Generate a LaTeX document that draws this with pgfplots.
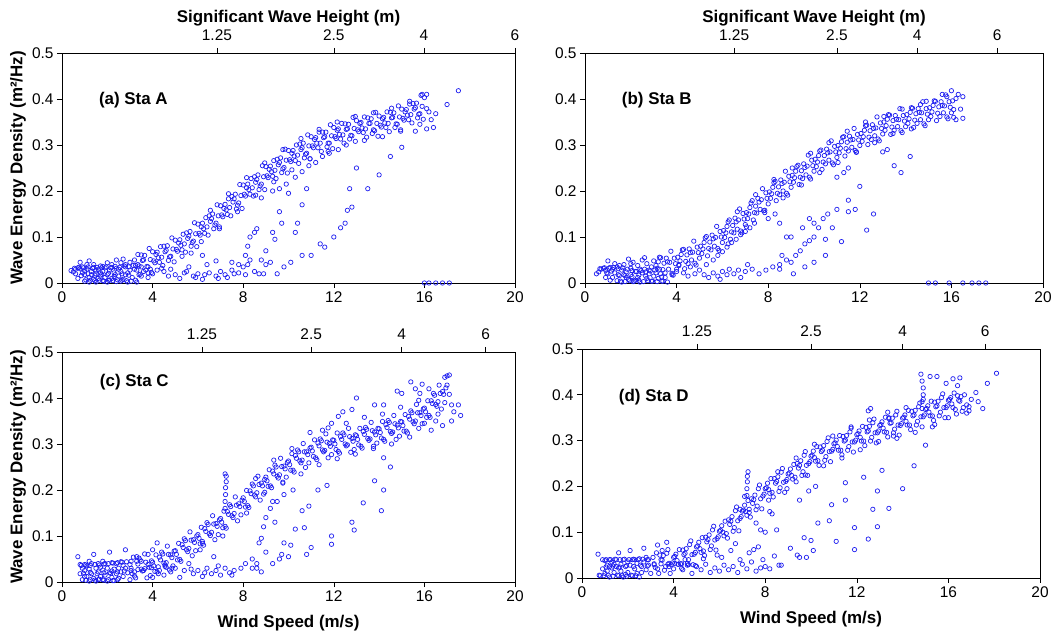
\documentclass[border=0pt]{standalone}
\usepackage{pgfplots}
\pgfplotsset{compat=1.18}
\usepackage{fontspec}
\setmainfont{Liberation Sans}
\definecolor{wblue}{RGB}{30,30,240}
\tikzset{plab/.style={anchor=west,font=\bfseries\fontsize{17}{18}\selectfont}}
\pgfplotsset{
  panel/.style={scale only axis, anchor=south west,
    xmin=0,xmax=20,ymin=0,ymax=0.5,
    xtick={0,4,8,12,16,20}, xticklabels={0,4,8,12,16,20},
    ytick={0,0.1,0.2,0.3,0.4,0.5}, yticklabels={0,0.1,0.2,0.3,0.4,0.5},
    /pgf/number format/assume math mode=true,
    tick align=outside, xtick pos=left, ytick pos=left,
    major tick length=5bp, tick style={black,line width=0.6bp},
    axis line style={black,line width=0.8bp},
    tick label style={font=\fontsize{15.5}{16}\selectfont},
    label style={font=\bfseries\fontsize{17}{18}\selectfont},
    ylabel style={at={(rel axis cs:0,0.5)},anchor=center,yshift=44bp},
    xlabel style={yshift=-7bp},
  },
  toppanel/.style={scale only axis, anchor=south west,
    xmin=0,xmax=20,ymin=0,ymax=1,
    axis x line*=top, axis y line=none,
    /pgf/number format/assume math mode=true,
    tick align=outside, major tick length=5bp,
    tick style={black,line width=0.6bp},
    axis line style={black,line width=0.8bp},
    tick label style={font=\fontsize{15.5}{16}\selectfont},
    xticklabel style={yshift=4bp},
    label style={font=\bfseries\fontsize{17}{18}\selectfont},
    xlabel style={yshift=-3bp},
  },
  sc/.style={only marks, mark=o, mark size=2.2bp, mark options={draw=wblue,line width=0.7bp}},
}
\begin{document}
\begin{tikzpicture}
\useasboundingbox (0,0) rectangle (1054bp,633bp);
% ---------------- (a)
\begin{axis}[panel, at={(62bp,350bp)}, width=453bp, height=230bp,
  ylabel={Wave Energy Density (m²/Hz)}]
\addplot[sc] coordinates {
(0.4,0.027)(0.5,0.024)(0.6,0.030)(0.7,0.033)(0.8,0.031)(0.9,0.022)(1.0,0.018)(1.0,0.004)(1.1,0.030)(1.2,0.012)(1.2,0.002)(1.3,0.025)(1.4,0.034)(1.4,0.008)(1.5,0.020)(1.5,0.002)(1.6,0.030)(1.7,0.015)(1.7,0.037)(1.8,0.005)(1.8,0.025)(1.9,0.033)(2.0,0.018)(2.0,0.002)(2.1,0.028)(2.2,0.010)(2.2,0.040)(2.3,0.022)(2.4,0.003)(2.4,0.032)(2.5,0.015)(2.6,0.044)(2.6,0.025)(2.7,0.008)(2.8,0.035)(2.8,0.018)(2.9,0.002)(3.0,0.028)(3.0,0.045)(3.1,0.012)(0.8,0.045)(1.2,0.048)(2.4,0.050)(1.9,0.012)(1.1,0.040)(0.6,0.020)(2.2,0.034)(1.6,0.010)(3.3,0.002)(2.7,0.052)(0.9,0.035)(1.3,0.018)(1.5,0.028)(1.8,0.036)(2.1,0.006)(2.5,0.030)(2.9,0.022)(3.2,0.030)(0.7,0.010)(1.0,0.026)(2.3,0.014)(2.6,0.004)(1.4,0.040)(2.0,0.044)(3.4,0.018)(3.6,0.025)(3.8,0.012)(1.7,0.022)(2.8,0.040)(3.5,0.035)
(0.55,0.032)(0.75,0.034)(0.95,0.033)(1.15,0.035)(1.35,0.032)(1.55,0.034)(1.75,0.033)(1.95,0.035)(2.15,0.033)(2.35,0.036)(2.55,0.034)(2.75,0.037)(2.95,0.035)(3.15,0.038)(3.35,0.040)
(1.05,0.007)(1.25,0.006)(1.45,0.005)(1.65,0.006)(1.85,0.004)(2.05,0.006)(2.25,0.005)(2.45,0.007)(2.65,0.006)(2.85,0.005)(3.05,0.004)(3.25,0.006)
(0.85,0.016)(1.15,0.020)(1.45,0.017)(1.75,0.019)(2.05,0.021)(2.35,0.018)(2.65,0.020)(2.95,0.017)
(3.2,0.050)(3.3,0.028)(3.4,0.037)(3.5,0.061)(3.6,0.050)(3.7,0.028)(3.8,0.035)(3.9,0.051)(4.0,0.068)(4.1,0.044)(4.2,0.067)(4.3,0.045)(4.4,0.056)(4.5,0.080)(4.6,0.071)(4.7,0.049)(4.8,0.058)(4.9,0.074)(5.0,0.093)(5.1,0.069)(5.2,0.094)(5.3,0.072)(5.4,0.085)(5.5,0.109)(5.6,0.102)(5.7,0.080)(5.8,0.091)(5.9,0.107)(6.0,0.128)(6.1,0.104)(6.2,0.130)(6.3,0.108)(6.4,0.122)(6.5,0.146)(6.6,0.140)(6.7,0.118)(6.8,0.130)(6.9,0.146)(7.0,0.168)(7.1,0.144)(7.2,0.171)(7.3,0.149)(7.4,0.164)(7.5,0.188)(7.6,0.183)(7.7,0.161)(7.8,0.174)(7.9,0.190)(8.0,0.213)(8.1,0.189)(8.2,0.215)(8.3,0.193)(8.4,0.207)(8.5,0.231)(8.6,0.225)(8.7,0.203)(8.8,0.215)(8.9,0.231)(9.0,0.253)(9.1,0.229)(9.2,0.254)(9.3,0.232)(9.4,0.245)(9.5,0.269)(9.6,0.262)(9.7,0.240)(9.8,0.251)(9.9,0.267)(10.0,0.288)(10.1,0.264)(10.2,0.288)(10.3,0.266)(10.4,0.278)(10.5,0.302)(10.6,0.294)(10.7,0.272)(10.8,0.282)(10.9,0.298)(11.0,0.318)(11.1,0.294)(11.2,0.316)(11.3,0.294)(11.4,0.304)(11.5,0.328)(11.6,0.318)(11.7,0.296)(11.8,0.304)(11.9,0.320)(12.0,0.338)(12.1,0.314)(12.2,0.335)(12.3,0.313)(12.4,0.322)(12.5,0.346)(12.6,0.335)(12.7,0.313)(12.8,0.320)(12.9,0.336)(13.0,0.353)(13.1,0.329)(13.2,0.349)(13.3,0.327)(13.4,0.335)(13.5,0.359)(13.6,0.347)(13.7,0.325)(13.8,0.331)(13.9,0.347)(14.0,0.363)(14.1,0.339)(14.2,0.360)(14.3,0.338)(14.4,0.347)(14.5,0.371)(14.6,0.360)(14.7,0.338)(14.8,0.345)(14.9,0.361)(15.0,0.378)(15.1,0.354)(15.2,0.377)(15.3,0.355)(15.4,0.366)(15.5,0.390)(15.6,0.381)(15.7,0.359)(15.8,0.368)(15.9,0.384)(16.0,0.403)(16.1,0.379)
(3.25,0.038)(3.35,0.062)(3.45,0.019)(3.55,0.049)(3.65,0.060)(3.75,0.036)(3.85,0.075)(3.95,0.023)(4.05,0.048)(4.15,0.062)(4.25,0.055)(4.35,0.079)(4.45,0.038)(4.55,0.068)(4.65,0.081)(4.75,0.057)(4.85,0.098)(4.95,0.046)(5.05,0.073)(5.15,0.087)(5.25,0.082)(5.35,0.106)(5.45,0.067)(5.55,0.097)(5.65,0.112)(5.75,0.088)(5.85,0.131)(5.95,0.079)(6.05,0.108)(6.15,0.122)(6.25,0.118)(6.35,0.142)(6.45,0.104)(6.55,0.134)(6.65,0.150)(6.75,0.126)(6.85,0.170)(6.95,0.118)(7.05,0.148)(7.15,0.162)(7.25,0.159)(7.35,0.183)(7.45,0.146)(7.55,0.176)(7.65,0.193)(7.75,0.169)(7.85,0.214)(7.95,0.162)(8.05,0.193)(8.15,0.207)(8.25,0.203)(8.35,0.227)(8.45,0.189)(8.55,0.219)(8.65,0.235)(8.75,0.211)(8.85,0.255)(8.95,0.203)(9.05,0.233)(9.15,0.247)(9.25,0.242)(9.35,0.266)(9.45,0.227)(9.55,0.257)(9.65,0.272)(9.75,0.248)(9.85,0.291)(9.95,0.239)(10.05,0.268)(10.15,0.282)(10.25,0.276)(10.35,0.300)(10.45,0.260)(10.55,0.290)(10.65,0.304)(10.75,0.280)(10.85,0.322)(10.95,0.270)(11.05,0.298)(11.15,0.312)(11.25,0.304)(11.35,0.328)(11.45,0.286)(11.55,0.316)(11.65,0.328)(11.75,0.304)(11.85,0.344)(11.95,0.292)(12.05,0.318)(12.15,0.332)(12.25,0.323)(12.35,0.347)(12.45,0.304)(12.55,0.334)(12.65,0.345)(12.75,0.321)(12.85,0.360)(12.95,0.308)(13.05,0.333)(13.15,0.347)(13.25,0.337)(13.35,0.361)(13.45,0.317)(13.55,0.347)(13.65,0.357)(13.75,0.333)(13.85,0.371)(13.95,0.319)(14.05,0.343)(14.15,0.357)(14.25,0.348)(14.35,0.372)(14.45,0.329)(14.55,0.359)(14.65,0.370)(14.75,0.346)(14.85,0.385)(14.95,0.333)(15.05,0.358)(15.15,0.372)(15.25,0.365)(15.35,0.389)(15.45,0.348)(15.55,0.378)(15.65,0.391)(15.75,0.367)(15.85,0.408)(15.95,0.356)
(6.15,0.090)(6.55,0.158)(6.95,0.122)(7.35,0.194)(7.75,0.155)(8.15,0.229)(8.55,0.191)(8.95,0.261)(9.35,0.220)(9.75,0.290)(10.15,0.246)(10.55,0.314)(10.95,0.270)(11.35,0.334)(11.75,0.286)(12.15,0.350)(12.55,0.300)(12.95,0.362)(13.35,0.310)(13.75,0.370)(14.15,0.318)(14.55,0.380)(14.95,0.330)(15.35,0.395)
(9.6,0.205)(9.9,0.215)(10.3,0.230)(10.6,0.242)(10.9,0.255)(11.2,0.262)(11.5,0.275)(12.2,0.290)(11.8,0.282)(10.0,0.195)(9.3,0.200)(8.8,0.185)
(3.5,0.015)(3.8,0.022)(4.0,0.020)(4.2,0.028)(4.5,0.025)(4.7,0.015)(5.0,0.018)(5.2,0.010)(5.4,0.022)(5.5,0.025)(5.8,0.015)(6.0,0.020)(6.2,0.008)(6.3,0.018)(6.5,0.022)(6.8,0.015)(7.0,0.025)(7.2,0.018)(7.5,0.028)(7.8,0.022)(8.0,0.035)(8.2,0.040)(4.8,0.030)(5.6,0.035)(6.4,0.040)(5.9,0.012)(6.9,0.010)(4.4,0.032)(3.9,0.030)(7.3,0.012)(7.6,0.020)(8.1,0.018)
(8.1,0.060)(8.2,0.080)(8.3,0.100)(8.5,0.110)(8.6,0.118)(8.8,0.050)(9.0,0.070)(9.2,0.045)(9.5,0.020)(9.8,0.035)(9.3,0.110)(9.4,0.095)(9.6,0.155)(9.7,0.130)(8.5,0.025)(8.7,0.020)(8.9,0.020)(10.3,0.110)(10.4,0.130)(10.6,0.170)(10.8,0.205)(10.1,0.045)(10.6,0.060)(11.0,0.060)(11.4,0.085)(11.6,0.078)(12.0,0.100)(12.3,0.120)(12.5,0.130)(12.6,0.158)(12.8,0.165)(12.7,0.205)(13.5,0.205)(14.0,0.235)(14.5,0.275)(15.0,0.295)(13.0,0.250)(9.0,0.040)(8.3,0.050)(7.8,0.040)(7.5,0.045)(6.8,0.048)(6.2,0.060)(5.7,0.065)(5.3,0.058)
(16.0,0)(16.2,0)(16.5,0)(16.8,0)(17.1,0)
(17.5,0.418)(17.0,0.388)(16.5,0.368)(16.3,0.355)(16.1,0.335)(16.4,0.338)(16.2,0.372)(15.8,0.345)(15.6,0.330)(16.1,0.410)(15.9,0.410)
};
\node[plab] at (rel axis cs:0.074,0.796) {(a) Sta A};
\end{axis}
\begin{axis}[toppanel, at={(62bp,350bp)}, width=453bp, height=230bp,
  xtick={6.84,12,15.98,20}, xticklabels={1.25,2.5,4,6},
  xlabel={Significant Wave Height (m)}]
\end{axis}
% ---------------- (b)
\begin{axis}[panel, at={(585bp,350bp)}, width=458bp, height=230bp]
\addplot[sc] coordinates {
(0.5,0.020)(0.6,0.024)(0.7,0.030)(0.8,0.032)(0.9,0.028)(1.0,0.020)(1.0,0.048)(1.1,0.034)(1.2,0.012)(1.2,0.030)(1.3,0.022)(1.4,0.005)(1.4,0.035)(1.5,0.016)(1.6,0.028)(1.6,0.002)(1.7,0.040)(1.8,0.012)(1.8,0.024)(1.9,0.008)(2.0,0.032)(2.0,0.018)(2.1,0.003)(2.1,0.045)(2.2,0.025)(2.3,0.012)(2.3,0.038)(2.4,0.002)(2.5,0.022)(2.5,0.050)(2.6,0.030)(2.7,0.010)(2.7,0.042)(2.8,0.020)(2.9,0.035)(2.9,0.004)(3.0,0.015)(3.1,0.038)(3.2,0.010)(3.3,0.020)(1.9,0.052)(2.6,0.055)(1.3,0.042)(0.9,0.012)(1.7,0.018)(2.2,0.006)(2.8,0.028)(3.4,0.004)(3.6,0.002)(1.1,0.006)(2.4,0.030)(1.5,0.038)(2.0,0.042)(3.0,0.048)
(0.65,0.031)(0.85,0.033)(1.05,0.032)(1.25,0.034)(1.45,0.031)(1.65,0.033)(1.85,0.030)(2.05,0.027)(2.25,0.025)(2.45,0.027)(2.65,0.024)(2.85,0.026)(3.05,0.028)(3.25,0.030)
(1.55,0.004)(1.75,0.003)(1.95,0.005)(2.15,0.004)(2.35,0.006)(2.55,0.003)(2.75,0.005)(2.95,0.004)(3.15,0.003)(3.35,0.004)
(1.45,0.018)(1.75,0.016)(2.05,0.014)(2.35,0.017)(2.65,0.015)(0.95,0.022)(1.15,0.026)
(3.1,0.022)(3.2,0.046)(3.3,0.055)(3.4,0.029)(3.5,0.022)(3.6,0.046)(3.7,0.045)(3.8,0.021)(3.9,0.054)(4.0,0.030)(4.1,0.038)(4.2,0.062)(4.3,0.073)(4.4,0.047)(4.5,0.042)(4.6,0.066)(4.7,0.067)(4.8,0.043)(4.9,0.078)(5.0,0.054)(5.1,0.064)(5.2,0.088)(5.3,0.101)(5.4,0.075)(5.5,0.072)(5.6,0.096)(5.7,0.099)(5.8,0.075)(5.9,0.112)(6.0,0.088)(6.1,0.099)(6.2,0.123)(6.3,0.137)(6.4,0.111)(6.5,0.109)(6.6,0.133)(6.7,0.137)(6.8,0.113)(6.9,0.151)(7.0,0.127)(7.1,0.140)(7.2,0.164)(7.3,0.179)(7.4,0.153)(7.5,0.152)(7.6,0.176)(7.7,0.181)(7.8,0.157)(7.9,0.196)(8.0,0.172)(8.1,0.184)(8.2,0.208)(8.3,0.221)(8.4,0.195)(8.5,0.192)(8.6,0.216)(8.7,0.219)(8.8,0.195)(8.9,0.232)(9.0,0.208)(9.1,0.219)(9.2,0.243)(9.3,0.256)(9.4,0.230)(9.5,0.227)(9.6,0.251)(9.7,0.254)(9.8,0.230)(9.9,0.267)(10.0,0.243)(10.1,0.253)(10.2,0.277)(10.3,0.289)(10.4,0.263)(10.5,0.259)(10.6,0.283)(10.7,0.285)(10.8,0.261)(10.9,0.297)(11.0,0.273)(11.1,0.283)(11.2,0.307)(11.3,0.318)(11.4,0.292)(11.5,0.287)(11.6,0.311)(11.7,0.312)(11.8,0.288)(11.9,0.323)(12.0,0.299)(12.1,0.308)(12.2,0.332)(12.3,0.343)(12.4,0.317)(12.5,0.312)(12.6,0.336)(12.7,0.337)(12.8,0.313)(12.9,0.348)(13.0,0.324)(13.1,0.332)(13.2,0.356)(13.3,0.365)(13.4,0.339)(13.5,0.332)(13.6,0.356)(13.7,0.355)(13.8,0.331)(13.9,0.364)(14.0,0.340)(14.1,0.347)(14.2,0.371)(14.3,0.380)(14.4,0.354)(14.5,0.347)(14.6,0.371)(14.7,0.370)(14.8,0.346)(14.9,0.379)(15.0,0.355)(15.1,0.362)(15.2,0.386)(15.3,0.395)(15.4,0.369)(15.5,0.362)(15.6,0.386)(15.7,0.385)(15.8,0.361)(15.9,0.394)(16.0,0.370)(16.1,0.377)(16.2,0.401)
(3.15,0.032)(3.25,0.056)(3.35,0.013)(3.45,0.043)(3.55,0.054)(3.65,0.030)(3.75,0.069)(3.85,0.017)(3.95,0.042)(4.05,0.056)(4.15,0.048)(4.25,0.072)(4.35,0.031)(4.45,0.061)(4.55,0.074)(4.65,0.050)(4.75,0.091)(4.85,0.039)(4.95,0.066)(5.05,0.080)(5.15,0.074)(5.25,0.098)(5.35,0.059)(5.45,0.089)(5.55,0.104)(5.65,0.080)(5.75,0.123)(5.85,0.071)(5.95,0.100)(6.05,0.114)(6.15,0.109)(6.25,0.133)(6.35,0.095)(6.45,0.125)(6.55,0.141)(6.65,0.117)(6.75,0.161)(6.85,0.109)(6.95,0.139)(7.05,0.153)(7.15,0.150)(7.25,0.174)(7.35,0.137)(7.45,0.167)(7.55,0.184)(7.65,0.160)(7.75,0.205)(7.85,0.153)(7.95,0.184)(8.05,0.198)(8.15,0.194)(8.25,0.218)(8.35,0.179)(8.45,0.209)(8.55,0.224)(8.65,0.200)(8.75,0.243)(8.85,0.191)(8.95,0.220)(9.05,0.234)(9.15,0.229)(9.25,0.253)(9.35,0.214)(9.45,0.244)(9.55,0.259)(9.65,0.235)(9.75,0.278)(9.85,0.226)(9.95,0.255)(10.05,0.269)(10.15,0.263)(10.25,0.287)(10.35,0.247)(10.45,0.277)(10.55,0.291)(10.65,0.267)(10.75,0.309)(10.85,0.257)(10.95,0.285)(11.05,0.299)(11.15,0.293)(11.25,0.317)(11.35,0.276)(11.45,0.306)(11.55,0.319)(11.65,0.295)(11.75,0.336)(11.85,0.284)(11.95,0.311)(12.05,0.325)(12.15,0.318)(12.25,0.342)(12.35,0.301)(12.45,0.331)(12.55,0.344)(12.65,0.320)(12.75,0.361)(12.85,0.309)(12.95,0.336)(13.05,0.350)(13.15,0.342)(13.25,0.366)(13.35,0.323)(13.45,0.353)(13.55,0.364)(13.65,0.340)(13.75,0.379)(13.85,0.327)(13.95,0.352)(14.05,0.366)(14.15,0.357)(14.25,0.381)(14.35,0.338)(14.45,0.368)(14.55,0.379)(14.65,0.355)(14.75,0.394)(14.85,0.342)(14.95,0.367)(15.05,0.381)(15.15,0.372)(15.25,0.396)(15.35,0.353)(15.45,0.383)(15.55,0.394)(15.65,0.370)(15.75,0.409)(15.85,0.357)(15.95,0.382)(16.05,0.396)
(16.3,0.410)(16.4,0.378)(16.5,0.358)(16.2,0.355)(16.0,0.418)(15.8,0.405)(16.5,0.405)(16.1,0.360)(15.6,0.410)(14.9,0.395)
(6.25,0.085)(6.65,0.155)(7.05,0.122)(7.45,0.192)(7.85,0.158)(8.25,0.225)(8.65,0.185)(9.05,0.250)(9.45,0.213)(9.85,0.282)(10.25,0.240)(10.65,0.305)(11.05,0.262)(11.45,0.330)(11.85,0.285)(12.25,0.350)(12.65,0.305)(13.05,0.362)(13.45,0.325)(13.85,0.378)(14.25,0.335)(14.65,0.388)
(5.6,0.050)(5.8,0.060)(6.0,0.068)(6.2,0.078)(6.4,0.088)(6.6,0.095)(6.8,0.105)(7.0,0.112)(7.2,0.120)(7.4,0.130)
(3.5,0.012)(3.8,0.018)(4.0,0.025)(4.3,0.022)(4.5,0.015)(4.8,0.020)(5.0,0.028)(5.2,0.018)(5.4,0.012)(5.6,0.022)(5.8,0.015)(6.0,0.025)(6.2,0.018)(6.5,0.020)(6.8,0.012)(7.0,0.025)(7.3,0.030)(7.6,0.020)(7.9,0.028)(8.2,0.035)(8.5,0.040)(4.6,0.035)(5.3,0.040)(6.3,0.030)(7.1,0.040)(5.9,0.008)(6.7,0.028)(4.1,0.040)
(8.5,0.030)(8.8,0.050)(9.0,0.045)(9.2,0.060)(9.4,0.070)(9.6,0.085)(9.8,0.092)(10.0,0.100)(10.2,0.120)(10.4,0.140)(10.6,0.150)(11.0,0.160)(8.0,0.140)(8.3,0.150)(8.5,0.130)(9.0,0.100)(9.5,0.120)(10.0,0.130)(11.5,0.180)(12.0,0.210)(12.6,0.150)(12.3,0.115)(11.0,0.230)(11.3,0.240)(11.5,0.250)(13.0,0.285)(13.5,0.255)(13.8,0.240)(14.2,0.275)(13.2,0.290)(9.6,0.035)(10.0,0.045)(10.5,0.060)(11.2,0.090)(11.5,0.155)(11.8,0.160)(10.8,0.120)(10.5,0.095)(9.8,0.140)(8.8,0.100)(9.1,0.020)(8.6,0.060)
(15.0,0)(15.3,0)(15.9,0)(16.5,0)(16.9,0)(17.2,0)(17.5,0)
};
\node[plab] at (rel axis cs:0.073,0.796) {(b) Sta B};
\end{axis}
\begin{axis}[toppanel, at={(585bp,350bp)}, width=458bp, height=230bp,
  xtick={6.51,11.0,14.5,18.0}, xticklabels={1.25,2.5,4,6},
  xlabel={Significant Wave Height (m)}]
\end{axis}
% ---------------- (c)
\begin{axis}[panel, at={(62bp,51bp)}, width=453bp, height=230bp,
  ylabel={Wave Energy Density (m²/Hz)}, xlabel={Wind Speed (m/s)}]
\addplot[sc] coordinates {
(0.7,0.055)(0.8,0.038)(0.8,0.018)(0.9,0.030)(0.9,0.005)(1.0,0.038)(1.0,0.025)(1.1,0.012)(1.1,0.035)(1.2,0.002)(1.2,0.028)(1.3,0.040)(1.3,0.018)(1.4,0.008)(1.4,0.060)(1.5,0.030)(1.5,0.002)(1.6,0.022)(1.6,0.040)(1.7,0.012)(1.7,0.032)(1.8,0.005)(1.8,0.026)(1.9,0.040)(1.9,0.015)(2.0,0.002)(2.0,0.030)(2.1,0.065)(2.1,0.020)(2.2,0.010)(2.2,0.042)(2.3,0.028)(2.3,0.003)(2.4,0.018)(2.4,0.040)(2.5,0.008)(2.5,0.030)(2.6,0.022)(2.6,0.044)(2.7,0.012)(2.8,0.070)(2.8,0.030)(2.9,0.020)(3.0,0.005)(1.0,0.012)(1.6,0.005)(2.2,0.024)(2.7,0.036)(1.2,0.045)(1.8,0.045)(3.2,0.022)(3.5,0.045)(3.8,0.060)(4.2,0.085)(4.0,0.070)(3.3,0.055)
(0.85,0.036)(1.05,0.037)(1.25,0.036)(1.45,0.038)(1.65,0.037)(1.85,0.039)(2.05,0.040)(2.25,0.041)(2.45,0.042)(2.65,0.043)(2.85,0.044)(3.05,0.045)
(1.05,0.004)(1.25,0.005)(1.45,0.004)(1.65,0.006)(1.85,0.004)(2.05,0.005)(2.25,0.003)(2.45,0.005)
(0.95,0.019)(1.25,0.021)(1.55,0.018)(1.85,0.020)(2.15,0.019)(2.45,0.022)(2.75,0.024)(3.05,0.025)(3.35,0.027)(3.65,0.029)(3.95,0.031)(4.25,0.033)(4.55,0.034)(4.85,0.030)
(3.0,0.038)(3.1,0.018)(3.2,0.013)(3.3,0.045)(3.4,0.052)(3.5,0.028)(3.6,0.025)(3.7,0.043)(3.8,0.038)(3.9,0.014)(4.0,0.043)(4.1,0.023)(4.2,0.022)(4.3,0.054)(4.4,0.065)(4.5,0.041)(4.6,0.042)(4.7,0.060)(4.8,0.059)(4.9,0.035)(5.0,0.068)(5.1,0.048)(5.2,0.049)(5.3,0.081)(5.4,0.094)(5.5,0.070)(5.6,0.073)(5.7,0.091)(5.8,0.092)(5.9,0.068)(6.0,0.103)(6.1,0.083)(6.2,0.084)(6.3,0.116)(6.4,0.129)(6.5,0.105)(6.6,0.108)(6.7,0.126)(6.8,0.127)(6.9,0.103)(7.0,0.138)(7.1,0.118)(7.2,0.121)(7.3,0.153)(7.4,0.168)(7.5,0.144)(7.6,0.149)(7.7,0.167)(7.8,0.170)(7.9,0.146)(8.0,0.183)(8.1,0.163)(8.2,0.166)(8.3,0.198)(8.4,0.213)(8.5,0.189)(8.6,0.194)(8.7,0.212)(8.8,0.215)(8.9,0.191)(9.0,0.228)(9.1,0.208)(9.2,0.209)(9.3,0.241)(9.4,0.254)(9.5,0.230)(9.6,0.233)(9.7,0.251)(9.8,0.252)(9.9,0.228)(10.0,0.263)(10.1,0.243)(10.2,0.243)(10.3,0.275)(10.4,0.287)(10.5,0.263)(10.6,0.265)(10.7,0.283)(10.8,0.283)(10.9,0.259)(11.0,0.293)(11.1,0.273)(11.2,0.270)(11.3,0.302)(11.4,0.311)(11.5,0.287)(11.6,0.286)(11.7,0.304)(11.8,0.301)(11.9,0.277)(12.0,0.308)(12.1,0.288)(12.2,0.284)(12.3,0.316)(12.4,0.324)(12.5,0.300)(12.6,0.298)(12.7,0.316)(12.8,0.312)(12.9,0.288)(13.0,0.318)(13.1,0.298)(13.2,0.295)(13.3,0.327)(13.4,0.336)(13.5,0.312)(13.6,0.311)(13.7,0.329)(13.8,0.326)(13.9,0.302)(14.0,0.333)(14.1,0.313)(14.2,0.310)(14.3,0.342)(14.4,0.351)(14.5,0.327)(14.6,0.326)(14.7,0.344)(14.8,0.341)(14.9,0.317)(15.0,0.348)(15.1,0.328)(15.2,0.328)(15.3,0.360)(15.4,0.372)(15.5,0.348)(15.6,0.350)(15.7,0.368)(15.8,0.368)(15.9,0.344)(16.0,0.378)(16.1,0.358)(16.2,0.362)(16.3,0.394)(16.4,0.410)(16.5,0.386)(16.6,0.392)(16.7,0.410)(16.8,0.414)(16.9,0.390)(17.0,0.428)(17.1,0.408)
(3.05,0.030)(3.15,0.054)(3.25,0.009)(3.35,0.039)(3.45,0.048)(3.55,0.024)(3.65,0.061)(3.75,0.009)(3.85,0.032)(3.95,0.046)(4.05,0.035)(4.15,0.059)(4.25,0.018)(4.35,0.048)(4.45,0.061)(4.55,0.037)(4.65,0.078)(4.75,0.026)(4.85,0.053)(4.95,0.067)(5.05,0.060)(5.15,0.084)(5.25,0.045)(5.35,0.075)(5.45,0.090)(5.55,0.066)(5.65,0.109)(5.75,0.057)(5.85,0.086)(5.95,0.100)(6.05,0.095)(6.15,0.119)(6.25,0.080)(6.35,0.110)(6.45,0.125)(6.55,0.101)(6.65,0.144)(6.75,0.092)(6.85,0.121)(6.95,0.135)(7.05,0.130)(7.15,0.154)(7.25,0.117)(7.35,0.147)(7.45,0.164)(7.55,0.140)(7.65,0.185)(7.75,0.133)(7.85,0.164)(7.95,0.178)(8.05,0.175)(8.15,0.199)(8.25,0.162)(8.35,0.192)(8.45,0.209)(8.55,0.185)(8.65,0.230)(8.75,0.178)(8.85,0.209)(8.95,0.223)(9.05,0.220)(9.15,0.244)(9.25,0.205)(9.35,0.235)(9.45,0.250)(9.55,0.226)(9.65,0.269)(9.75,0.217)(9.85,0.246)(9.95,0.260)(10.05,0.255)(10.15,0.279)(10.25,0.239)(10.35,0.269)(10.45,0.283)(10.55,0.259)(10.65,0.301)(10.75,0.249)(10.85,0.277)(10.95,0.291)(11.05,0.285)(11.15,0.309)(11.25,0.266)(11.35,0.296)(11.45,0.307)(11.55,0.283)(11.65,0.322)(11.75,0.270)(11.85,0.295)(11.95,0.309)(12.05,0.300)(12.15,0.324)(12.25,0.280)(12.35,0.310)(12.45,0.320)(12.55,0.296)(12.65,0.334)(12.75,0.282)(12.85,0.306)(12.95,0.320)(13.05,0.310)(13.15,0.334)(13.25,0.291)(13.35,0.321)(13.45,0.332)(13.55,0.308)(13.65,0.347)(13.75,0.295)(13.85,0.320)(13.95,0.334)(14.05,0.325)(14.15,0.349)(14.25,0.306)(14.35,0.336)(14.45,0.347)(14.55,0.323)(14.65,0.362)(14.75,0.310)(14.85,0.335)(14.95,0.349)(15.05,0.340)(15.15,0.364)(15.25,0.324)(15.35,0.354)(15.45,0.368)(15.55,0.344)(15.65,0.386)(15.75,0.334)(15.85,0.362)(15.95,0.376)(16.05,0.370)(16.15,0.394)(16.25,0.358)(16.35,0.388)(16.45,0.406)(16.55,0.382)(16.65,0.428)(16.75,0.376)(16.85,0.408)(16.95,0.422)
(17.0,0.448)(17.1,0.450)(16.9,0.445)(17.2,0.385)(17.5,0.385)(17.6,0.362)(17.3,0.370)(16.8,0.340)(16.5,0.350)(16.3,0.330)(16.0,0.345)(16.2,0.420)(15.9,0.430)(15.6,0.420)(15.4,0.435)(15.0,0.410)(14.8,0.415)(15.8,0.410)(16.6,0.365)(17.2,0.350)
(8.15,0.150)(8.55,0.225)(8.95,0.195)(9.35,0.265)(9.75,0.215)(10.15,0.290)(10.55,0.235)(10.95,0.325)(11.35,0.255)(11.75,0.335)(12.15,0.268)(12.55,0.345)(12.95,0.278)(13.35,0.358)(13.75,0.290)(14.15,0.365)(14.55,0.300)(14.95,0.380)(15.35,0.315)(15.75,0.395)(13.0,0.400)(12.4,0.370)(12.8,0.375)(11.9,0.345)(12.2,0.360)(13.8,0.385)(14.2,0.385)(11.5,0.330)
(7.2,0.160)(7.2,0.175)(7.22,0.190)(7.22,0.205)(7.25,0.218)(7.25,0.230)(7.2,0.235)
(4.0,0.010)(4.3,0.025)(4.5,0.015)(4.8,0.022)(5.0,0.030)(5.2,0.010)(5.4,0.025)(5.6,0.040)(5.8,0.018)(6.0,0.025)(6.2,0.012)(6.4,0.030)(6.6,0.018)(6.8,0.025)(7.0,0.015)(7.2,0.030)(7.4,0.020)(7.6,0.025)(7.9,0.030)(8.1,0.040)(8.4,0.050)(8.6,0.030)(8.8,0.022)(5.7,0.028)(6.3,0.020)(4.6,0.032)(6.9,0.035)(7.5,0.015)(6.1,0.070)(6.2,0.088)(7.1,0.100)(6.7,0.055)
(8.7,0.085)(8.8,0.095)(8.9,0.120)(9.0,0.140)(9.2,0.160)(9.3,0.175)(9.0,0.065)(9.3,0.040)(9.6,0.050)(9.7,0.060)(10.0,0.055)(9.8,0.085)(10.3,0.115)(10.7,0.118)(11.0,0.075)(10.8,0.060)(10.1,0.080)(10.6,0.155)(10.9,0.165)(11.3,0.200)(11.7,0.210)(11.9,0.100)(11.9,0.082)(12.8,0.130)(12.9,0.113)(13.3,0.172)(13.8,0.220)(14.2,0.200)(14.1,0.155)(14.5,0.250)(14.2,0.270)(10.2,0.200)(9.8,0.190)(9.5,0.175)(9.4,0.130)(8.6,0.040)(8.4,0.030)
};
\node[plab] at (rel axis cs:0.076,0.87) {(c) Sta C};
\end{axis}
\begin{axis}[toppanel, at={(62bp,51bp)}, width=453bp, height=230bp,
  xtick={6.18,11.0,15.0,18.7}, xticklabels={1.25,2.5,4,6}]
\end{axis}
% ---------------- (d)
\begin{axis}[panel, at={(582bp,55bp)}, width=458bp, height=229bp,
  xlabel={Wind Speed (m/s)}]
\addplot[sc] coordinates {
(0.7,0.052)(0.8,0.005)(0.9,0.020)(1.0,0.038)(1.0,0.010)(1.1,0.028)(1.2,0.040)(1.2,0.002)(1.3,0.022)(1.3,0.035)(1.4,0.012)(1.5,0.040)(1.5,0.025)(1.6,0.005)(1.6,0.055)(1.7,0.030)(1.7,0.015)(1.8,0.040)(1.8,0.002)(1.9,0.025)(2.0,0.035)(2.0,0.012)(2.1,0.060)(2.1,0.028)(2.2,0.005)(2.2,0.040)(2.3,0.020)(2.4,0.032)(2.4,0.010)(2.5,0.002)(2.5,0.042)(2.6,0.025)(2.7,0.065)(2.7,0.035)(2.8,0.018)(2.9,0.040)(2.9,0.028)(3.0,0.010)(1.1,0.015)(1.4,0.030)(1.9,0.008)(2.3,0.040)(2.6,0.012)(0.9,0.040)(1.2,0.025)(3.3,0.072)(3.7,0.078)(3.5,0.060)(2.8,0.045)(1.6,0.022)
(1.05,0.040)(1.25,0.040)(1.45,0.041)(1.65,0.040)(1.85,0.041)(2.05,0.040)(2.25,0.041)(2.45,0.040)(2.65,0.041)(2.85,0.040)
(0.75,0.006)(0.95,0.005)(1.15,0.006)(1.35,0.004)(1.55,0.006)(1.75,0.005)(1.95,0.004)(2.15,0.006)(2.35,0.005)
(1.05,0.024)(1.35,0.026)(1.65,0.024)(1.95,0.027)(2.25,0.025)(2.55,0.028)(2.85,0.026)(3.15,0.029)(3.45,0.031)(3.75,0.030)(4.05,0.032)(4.35,0.031)(4.65,0.029)(4.95,0.027)
(3.1,0.045)(3.2,0.023)(3.3,0.020)(3.4,0.050)(3.5,0.039)(3.6,0.017)(3.7,0.054)(3.8,0.032)(3.9,0.029)(4.0,0.045)(4.1,0.052)(4.2,0.030)(4.3,0.031)(4.4,0.061)(4.5,0.054)(4.6,0.032)(4.7,0.073)(4.8,0.051)(4.9,0.052)(5.0,0.068)(5.1,0.078)(5.2,0.056)(5.3,0.059)(5.4,0.089)(5.5,0.084)(5.6,0.062)(5.7,0.105)(5.8,0.083)(5.9,0.086)(6.0,0.102)(6.1,0.114)(6.2,0.092)(6.3,0.097)(6.4,0.127)(6.5,0.124)(6.6,0.102)(6.7,0.147)(6.8,0.125)(6.9,0.130)(7.0,0.146)(7.1,0.159)(7.2,0.137)(7.3,0.143)(7.4,0.173)(7.5,0.171)(7.6,0.149)(7.7,0.195)(7.8,0.173)(7.9,0.179)(8.0,0.195)(8.1,0.207)(8.2,0.185)(8.3,0.187)(8.4,0.217)(8.5,0.211)(8.6,0.189)(8.7,0.231)(8.8,0.209)(8.9,0.211)(9.0,0.227)(9.1,0.238)(9.2,0.216)(9.3,0.220)(9.4,0.250)(9.5,0.246)(9.6,0.224)(9.7,0.268)(9.8,0.246)(9.9,0.250)(10.0,0.266)(10.1,0.277)(10.2,0.255)(10.3,0.256)(10.4,0.286)(10.5,0.279)(10.6,0.257)(10.7,0.298)(10.8,0.276)(10.9,0.277)(11.0,0.293)(11.1,0.301)(11.2,0.279)(11.3,0.279)(11.4,0.309)(11.5,0.301)(11.6,0.279)(11.7,0.319)(11.8,0.297)(11.9,0.297)(12.0,0.313)(12.1,0.321)(12.2,0.299)(12.3,0.299)(12.4,0.329)(12.5,0.321)(12.6,0.299)(12.7,0.339)(12.8,0.317)(12.9,0.317)(13.0,0.333)(13.1,0.341)(13.2,0.319)(13.3,0.318)(13.4,0.348)(13.5,0.339)(13.6,0.317)(13.7,0.356)(13.8,0.334)(13.9,0.333)(14.0,0.349)(14.1,0.356)(14.2,0.334)(14.3,0.334)(14.4,0.364)(14.5,0.356)(14.6,0.334)(14.7,0.374)(14.8,0.352)(14.9,0.352)(15.0,0.368)(15.1,0.376)(15.2,0.354)(15.3,0.354)(15.4,0.384)(15.5,0.376)(15.6,0.354)(15.7,0.394)(15.8,0.372)(15.9,0.372)(16.0,0.388)(16.1,0.394)(16.2,0.372)(16.3,0.368)(16.4,0.398)(16.5,0.386)(16.6,0.364)(16.7,0.400)(16.8,0.378)(16.9,0.374)(17.0,0.390)
(3.15,0.031)(3.25,0.055)(3.35,0.010)(3.45,0.040)(3.55,0.049)(3.65,0.025)(3.75,0.062)(3.85,0.010)(3.95,0.033)(4.05,0.047)(4.15,0.038)(4.25,0.062)(4.35,0.021)(4.45,0.051)(4.55,0.064)(4.65,0.040)(4.75,0.081)(4.85,0.029)(4.95,0.056)(5.05,0.070)(5.15,0.064)(5.25,0.088)(5.35,0.049)(5.45,0.079)(5.55,0.094)(5.65,0.070)(5.75,0.113)(5.85,0.061)(5.95,0.090)(6.05,0.104)(6.15,0.100)(6.25,0.124)(6.35,0.087)(6.45,0.117)(6.55,0.134)(6.65,0.110)(6.75,0.155)(6.85,0.103)(6.95,0.134)(7.05,0.148)(7.15,0.145)(7.25,0.169)(7.35,0.133)(7.45,0.163)(7.55,0.181)(7.65,0.157)(7.75,0.203)(7.85,0.151)(7.95,0.183)(8.05,0.197)(8.15,0.193)(8.25,0.217)(8.35,0.177)(8.45,0.207)(8.55,0.221)(8.65,0.197)(8.75,0.239)(8.85,0.187)(8.95,0.215)(9.05,0.229)(9.15,0.224)(9.25,0.248)(9.35,0.210)(9.45,0.240)(9.55,0.256)(9.65,0.232)(9.75,0.276)(9.85,0.224)(9.95,0.254)(10.05,0.268)(10.15,0.263)(10.25,0.287)(10.35,0.246)(10.45,0.276)(10.55,0.289)(10.65,0.265)(10.75,0.306)(10.85,0.254)(10.95,0.281)(11.05,0.295)(11.15,0.287)(11.25,0.311)(11.35,0.269)(11.45,0.299)(11.55,0.311)(11.65,0.287)(11.75,0.327)(11.85,0.275)(11.95,0.301)(12.05,0.315)(12.15,0.307)(12.25,0.331)(12.35,0.289)(12.45,0.319)(12.55,0.331)(12.65,0.307)(12.75,0.347)(12.85,0.295)(12.95,0.321)(13.05,0.335)(13.15,0.327)(13.25,0.351)(13.35,0.308)(13.45,0.338)(13.55,0.349)(13.65,0.325)(13.75,0.364)(13.85,0.312)(13.95,0.337)(14.05,0.351)(14.15,0.342)(14.25,0.366)(14.35,0.324)(14.45,0.354)(14.55,0.366)(14.65,0.342)(14.75,0.382)(14.85,0.330)(14.95,0.356)(15.05,0.370)(15.15,0.362)(15.25,0.386)(15.35,0.344)(15.45,0.374)(15.55,0.386)(15.65,0.362)(15.75,0.402)(15.85,0.350)(15.95,0.376)(16.05,0.390)(16.15,0.380)(16.25,0.404)(16.35,0.358)(16.45,0.388)(16.55,0.396)(16.65,0.372)
(14.85,0.370)(14.85,0.385)(14.9,0.400)(14.9,0.415)(14.85,0.430)(14.8,0.445)(14.9,0.390)(15.2,0.440)(15.5,0.440)(15.9,0.425)(16.2,0.435)(16.5,0.437)(16.4,0.420)(17.2,0.405)(17.5,0.370)(17.7,0.425)(18.1,0.447)(17.3,0.385)(16.9,0.365)(15.3,0.330)(15.4,0.335)(15.0,0.290)(16.8,0.360)(16.0,0.350)
(8.15,0.170)(8.55,0.232)(8.95,0.195)(9.35,0.262)(9.75,0.225)(10.15,0.292)(10.55,0.245)(10.95,0.310)(11.35,0.262)(11.75,0.330)(12.15,0.280)(12.55,0.345)(12.95,0.298)(13.35,0.362)(13.75,0.305)(14.15,0.372)(14.55,0.318)(12.6,0.370)(12.5,0.365)(13.4,0.350)
(7.2,0.180)(7.2,0.195)(7.22,0.210)(7.22,0.222)(7.25,0.232)(7.1,0.178)(6.9,0.150)(7.3,0.150)
(3.8,0.025)(4.0,0.020)(4.2,0.030)(4.4,0.018)(4.6,0.028)(4.8,0.010)(5.0,0.025)(5.2,0.018)(5.4,0.030)(5.6,0.012)(5.8,0.022)(6.0,0.015)(6.2,0.028)(6.4,0.018)(6.6,0.025)(6.8,0.012)(7.0,0.030)(7.2,0.020)(7.4,0.035)(7.6,0.015)(7.8,0.022)(8.0,0.025)(8.2,0.020)(4.5,0.040)(5.3,0.042)(6.1,0.045)(6.9,0.040)(7.3,0.055)(7.5,0.062)(7.7,0.068)(7.9,0.040)(6.5,0.060)(6.7,0.075)(5.9,0.050)
(8.4,0.048)(8.6,0.028)(8.7,0.028)(9.1,0.065)(9.4,0.050)(9.5,0.045)(9.7,0.088)(9.8,0.045)(10.1,0.060)(10.0,0.082)(10.3,0.120)(10.8,0.125)(10.9,0.160)(11.1,0.080)(11.5,0.170)(11.5,0.208)(11.9,0.110)(11.9,0.062)(12.3,0.220)(12.5,0.085)(12.7,0.150)(12.9,0.112)(12.9,0.190)(13.1,0.235)(13.4,0.152)(14.0,0.195)(14.5,0.245)(13.6,0.310)(8.0,0.100)(8.2,0.145)(8.3,0.140)(8.5,0.105)(7.8,0.105)(7.6,0.120)(9.5,0.170)(9.9,0.190)(10.2,0.200)
};
\node[plab] at (rel axis cs:0.073,0.79) {(d) Sta D};
\end{axis}
\begin{axis}[toppanel, at={(582bp,55bp)}, width=458bp, height=229bp,
  xtick={5.02,10.0,14.0,17.6}, xticklabels={1.25,2.5,4,6}]
\end{axis}
\end{tikzpicture}
\end{document}
